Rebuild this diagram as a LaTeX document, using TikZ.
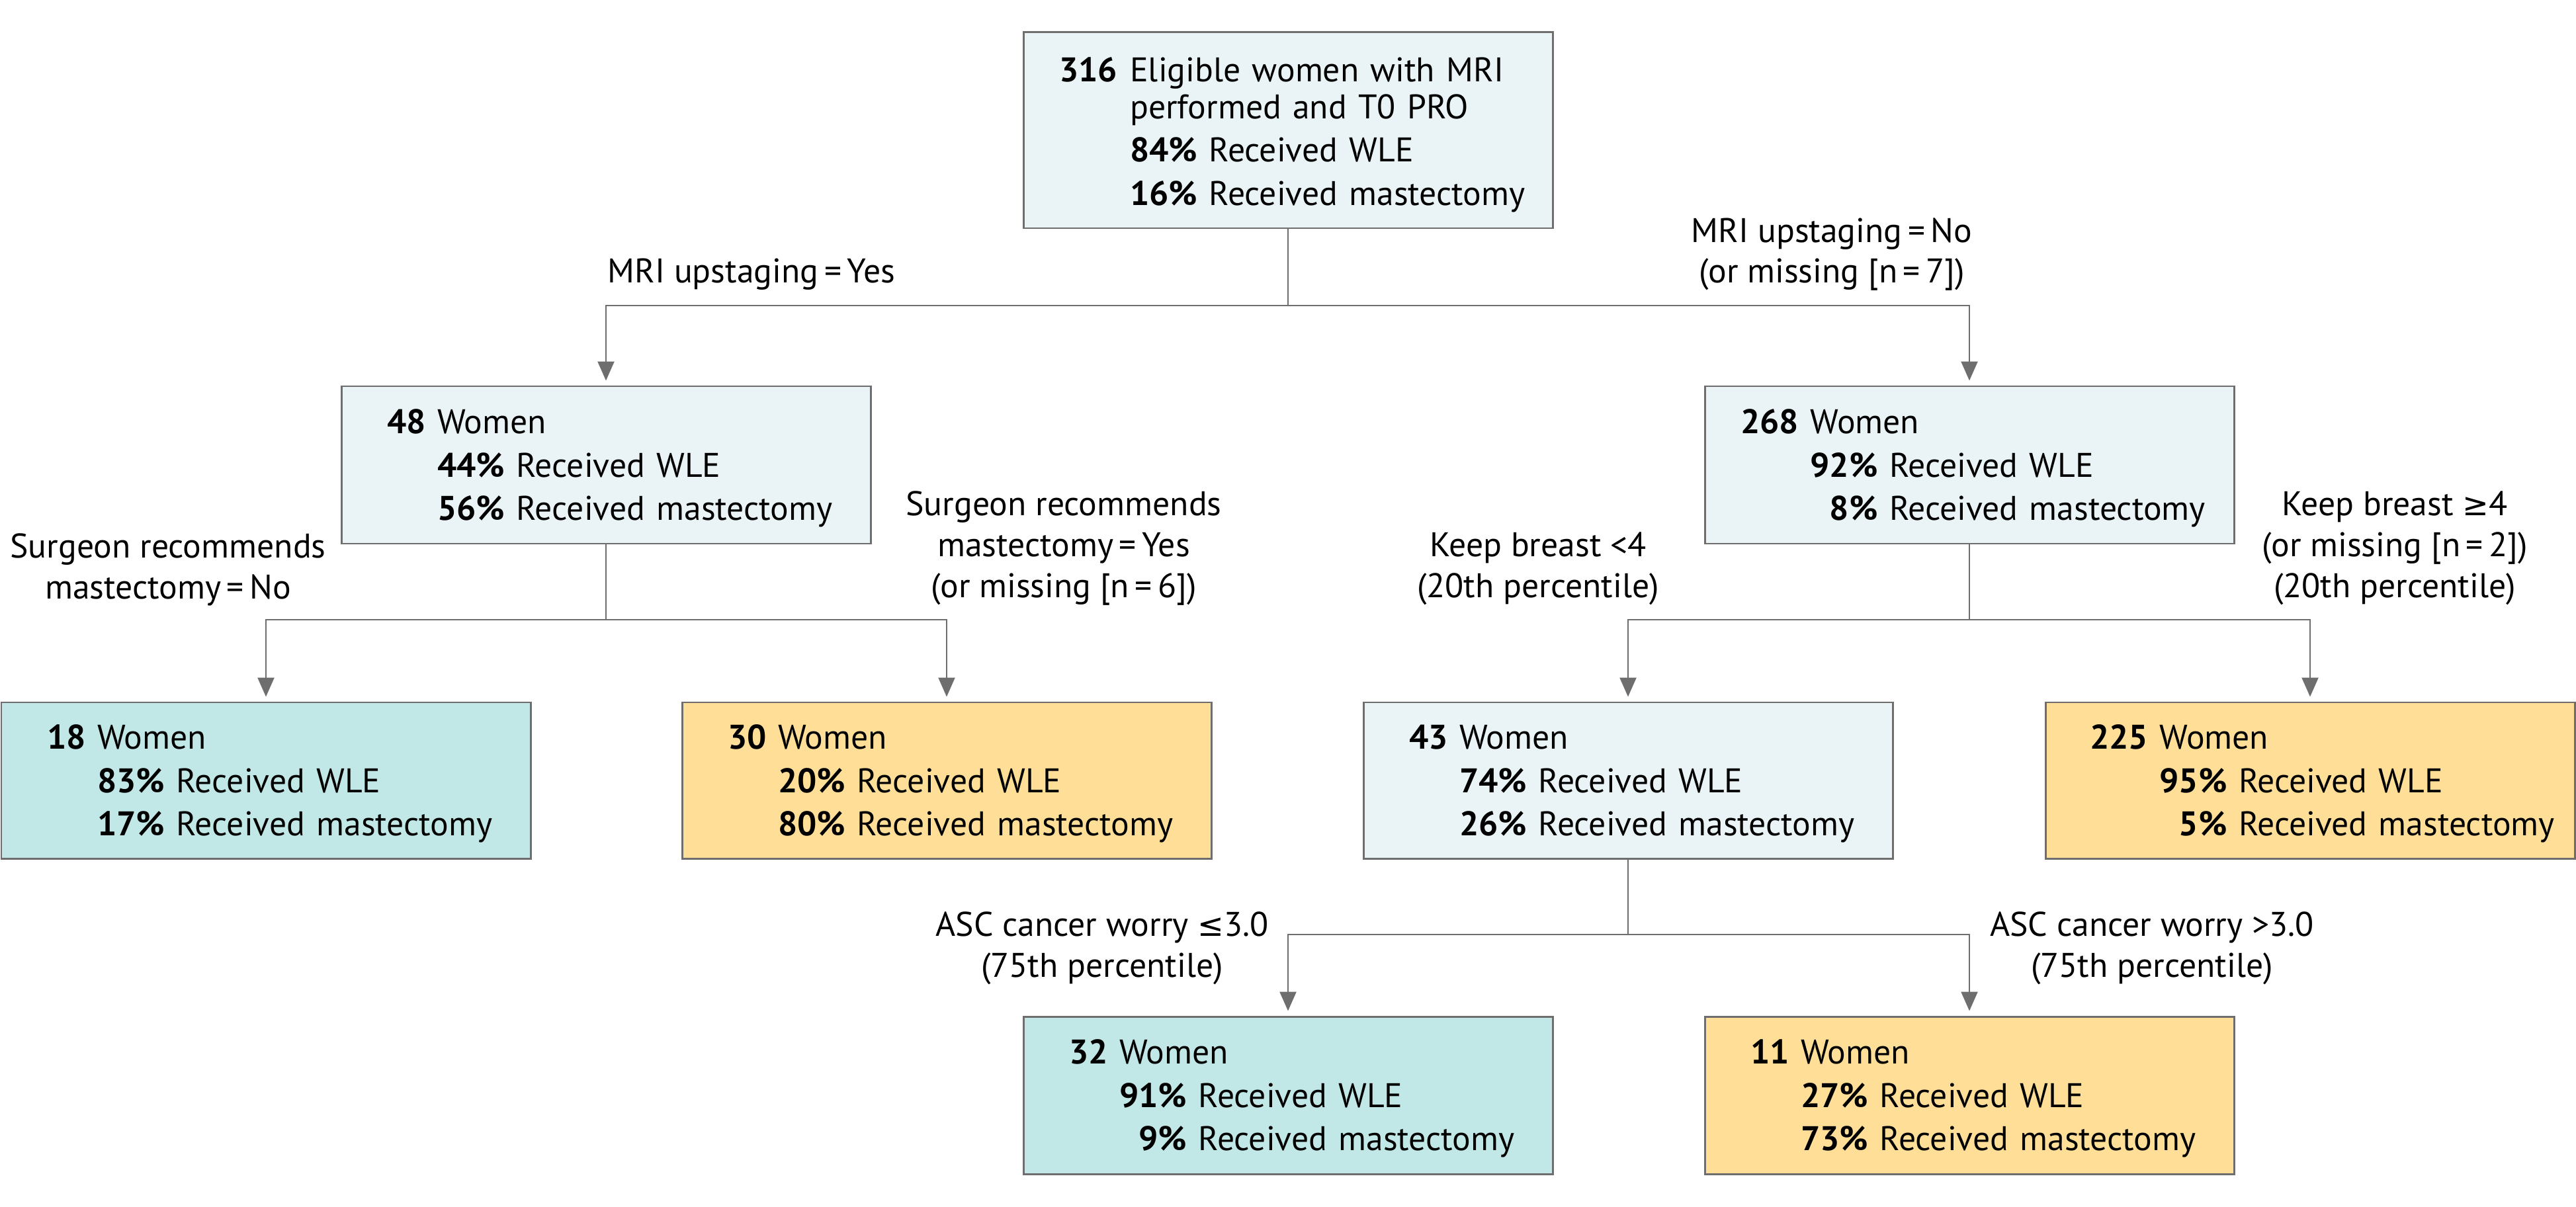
\documentclass[tikz,border=0pt]{standalone}
\usepackage{fontspec}
\setmainfont{PT Sans}
\newfontfamily\symf{DejaVu Sans}[Scale=0.92]
\usetikzlibrary{arrows.meta}
\definecolor{lgray}{HTML}{6E6E6E}
\definecolor{cLight}{HTML}{EAF4F6}
\definecolor{cTeal}{HTML}{C1E7E6}
\definecolor{cYellow}{HTML}{FFDF98}
\newcommand\pctbox[4]{\mbox{\rule{0pt}{15.9pt}\textbf{#1}\hspace{5pt}\begin{tabular}[t]{@{}r@{\hspace{5pt}}l@{}}\multicolumn{2}{@{}l@{}}{#2}\\\textbf{#3\%}&Received WLE\\\textbf{#4\%}&Received mastectomy\end{tabular}}}
\newcommand\lbl[1]{\begin{tabular}[b]{@{}c@{}}#1\end{tabular}}
\begin{document}
\begin{tikzpicture}[
  bx/.style 2 args={draw=lgray, line width=0.85pt, inner xsep=#1, inner ysep=0pt, text width=#2, align=left,
    font=\fontsize{14.7}{17.65}\selectfont\def\arraystretch{1.06}},
  lab/.style={inner sep=0pt, font=\fontsize{14.7}{17.6}\selectfont\def\arraystretch{1}},
  conn/.style={draw=lgray, line width=0.7pt},
  arr/.style={conn, -{Triangle[width=0.25cm,length=0.29cm]}, shorten >=0.07cm}
]
\useasboundingbox (0,0) rectangle (38.94,-18.25);
\fill[white] (0,0) rectangle (38.94,-18.25);
% boxes
\node[bx={0.54cm}{6.92cm}, fill=cLight, minimum height=2.96cm] (top) at (19.47,-1.97)
  {\mbox{\rule{0pt}{17pt}\textbf{316}\hspace{5.5pt}\begin{tabular}[t]{@{}r@{\hspace{5pt}}l@{}}\multicolumn{2}{@{}l@{}}{Eligible women with MRI}\\[-2.8pt]\multicolumn{2}{@{}l@{}}{performed and T0 PRO}\\\textbf{84\%}&Received WLE\\\textbf{16\%}&Received mastectomy\end{tabular}}};
\node[bx={0.69cm}{6.62cm}, fill=cLight, minimum height=2.38cm] (b48) at (9.16,-7.03) {\pctbox{48}{Women}{44}{56}};
\node[bx={0.54cm}{6.92cm}, fill=cLight, minimum height=2.38cm] (b268) at (29.77,-7.03) {\pctbox{268}{Women}{92}{8}};
\node[bx={0.69cm}{6.62cm}, fill=cTeal, minimum height=2.36cm] (b18) at (4.02,-11.80) {\pctbox{18}{Women}{83}{17}};
\node[bx={0.69cm}{6.62cm}, fill=cYellow, minimum height=2.36cm] (b30) at (14.31,-11.80) {\pctbox{30}{Women}{20}{80}};
\node[bx={0.69cm}{6.62cm}, fill=cLight, minimum height=2.36cm] (b43) at (24.61,-11.80) {\pctbox{43}{Women}{74}{26}};
\node[bx={0.67cm}{6.66cm}, fill=cYellow, minimum height=2.36cm] (b225) at (34.92,-11.80) {\pctbox{225}{Women}{95}{5}};
\node[bx={0.69cm}{6.62cm}, fill=cTeal, minimum height=2.38cm] (b32) at (19.47,-16.56) {\pctbox{32}{Women}{91}{9}};
\node[bx={0.69cm}{6.62cm}, fill=cYellow, minimum height=2.38cm] (b11) at (29.77,-16.56) {\pctbox{11}{Women}{27}{73}};
% junctions
\coordinate (j1) at (19.47,-4.62);
\coordinate (j2) at (9.16,-9.37);
\coordinate (j3) at (29.77,-9.37);
\coordinate (j4) at (24.61,-14.13);
\draw[conn] (top.south) -- (j1);
\draw[arr] (j1) -| (b48.north);
\draw[arr] (j1) -| (b268.north);
\draw[conn] (b48.south) -- (j2);
\draw[arr] (j2) -| (b18.north);
\draw[arr] (j2) -| (b30.north);
\draw[conn] (b268.south) -- (j3);
\draw[arr] (j3) -| (b43.north);
\draw[arr] (j3) -| (b225.north);
\draw[conn] (b43.south) -- (j4);
\draw[arr] (j4) -| (b32.north);
\draw[arr] (j4) -| (b11.north);
% labels
\node[lab, anchor=base west] (lYes) at (9.18,-4.28) {MRI upstaging\,=\,Yes};
\node[lab, anchor=base] (lNo) at (27.69,-4.28) {\lbl{MRI upstaging\,=\,No\\(or missing [n\,=\,7])}};
\node[lab, anchor=base] (lSNo) at (2.54,-9.05) {\lbl{Surgeon recommends\\mastectomy\,=\,No}};
\node[lab, anchor=base] (lSYes) at (16.08,-9.03) {\lbl{Surgeon recommends\\mastectomy\,=\,Yes\\(or missing [n\,=\,6])}};
\node[lab, anchor=base] (lK1) at (23.25,-9.03) {\lbl{Keep breast <4\\(20th percentile)}};
\node[lab, anchor=base] (lK2) at (36.20,-9.03) {\lbl{Keep breast {\symf ≥}4\\(or missing [n\,=\,2])\\(20th percentile)}};
\node[lab, anchor=base] (lA1) at (16.66,-14.77) {\lbl{ASC cancer worry {\symf ≤}3.0\\(75th percentile)}};
\node[lab, anchor=base] (lA2) at (32.53,-14.77) {\lbl{ASC cancer worry >3.0\\(75th percentile)}};
\end{tikzpicture}
\end{document}
